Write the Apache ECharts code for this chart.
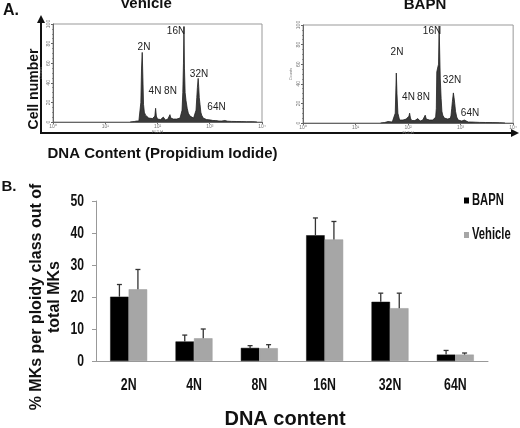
<!DOCTYPE html>
<html><head><meta charset="utf-8">
<script src="https://cdn.jsdelivr.net/npm/echarts@6/dist/echarts.min.js"></script>
<style>html,body{margin:0;padding:0;background:#fff}#c{width:520px;height:428px}</style>
</head><body><div id="c"></div>
<script>
// ---------- Data ----------
const categories = ['2N', '4N', '8N', '16N', '32N', '64N'];
const seriesNames = ['BAPN', 'Vehicle'];
const bapnMean = [20.1, 6.1, 4.1, 39.3, 18.5, 2.0];
const bapnErr = [3.8, 2.0, 0.7, 5.4, 2.7, 1.3];
const vehicleMean = [22.4, 7.1, 4.0, 38.0, 16.5, 2.0];
const vehicleErr = [6.2, 2.9, 1.1, 5.6, 4.7, 0.5];
const yTicks = [0, 10, 20, 30, 40, 50];

// flow cytometry histograms: [FL2-H channel, counts]
const vehicleHist = [[30,0],[36,0.5],[40,1],[44,1],[46,3],[48,20],[49.5,55],[51,71],[52.5,45],[54,18],[56,10],[59,7],[63,5],[68,4],[74,3],[80,3.5],[85,4],[89,6],[92,14],[95,6],[100,3],[108,3],[115,2.5],[122,3],[129,5],[135,3],[142,2],[150,3],[158,3],[165,4],[173,7.5],[180,4],[190,3],[201,3],[215,2.5],[233,3],[250,3.5],[270,4],[285,6],[295,12],[305,30],[314,60],[321,97],[328,55],[338,30],[351,22],[370,14],[389,9],[420,6],[451,5],[490,4],[520,5],[546,12],[565,25],[580,35],[600,44.5],[615,36],[630,25],[651,18],[675,10],[700,7],[750,4],[811,3],[870,2.5],[950,2],[1050,2],[1150,1.5],[1300,1.5],[1500,1],[1700,1],[1950,1.5],[2200,0.8],[2600,0.6],[3200,0.5],[4000,0.4],[5000,0.3],[6700,0.3],[8000,0]];
const bapnHist = [[30,0],[36,0.5],[41.5,1.5],[45,1],[50,1],[54,1.5],[57,10],[59.7,51],[61.5,30],[64,10],[69,3],[75,3],[80,3],[86,3.5],[92,4],[100,4],[104,7],[107,10],[111,5],[117,2.5],[123,2],[135,2.5],[145,3],[153,4.5],[160,3],[170,2],[178,2],[190,3],[200,5],[212,8],[222,4],[238,3],[256,3],[275,3],[295,3],[318,3],[335,6],[345,15],[352,52],[365,56],[380,60],[390,99],[398,99],[410,45],[426,25],[440,12],[457,8],[490,5],[530,4],[570,4],[612,4],[640,5],[658,8],[678,15],[698,22],[728,30.7],[750,26],[773,20],[800,12],[843,6],[900,3],[947,2],[1050,2],[1178,3],[1250,1.5],[1400,1],[1600,1],[1900,0.8],[2300,0.6],[3000,0.5],[4000,0.4],[5500,0.3],[7000,0]];

// ---------- Styles ----------
const BOLD = 'Liberation Sans, Arial, sans-serif';
const sup = {0:'\u2070',1:'\u00b9',2:'\u00b2',3:'\u00b3',4:'\u2074'};
const BAR_COLORS = ['#000000', '#a6a6a6'];

function histX(idx){
  return {type:'log', logBase:10, min:1, max:10000, gridIndex:idx,
    name:'FL2-H', nameLocation:'middle', nameGap:6, nameTextStyle:{fontSize:4,color:'#777'},
    axisLine:{lineStyle:{color:'#666',width:1}}, axisTick:{length:2,lineStyle:{color:'#666'}},
    axisLabel:{fontSize:5,color:'#777',margin:2,formatter:v=>'10'+sup[Math.round(Math.log10(v))]},
    splitLine:{show:false}};
}
function histY(idx){
  return {type:'value', min:0, max:100, interval:20, gridIndex:idx,
    name:'Counts', nameLocation:'middle', nameGap:10, nameRotate:90, nameTextStyle:{fontSize:4,color:'#777'},
    axisLine:{show:true,lineStyle:{color:'#666'}}, axisTick:{show:true,length:2,lineStyle:{color:'#666'}},
    minorTick:{show:true,splitNumber:4,length:1,lineStyle:{color:'#888'}},
    axisLabel:{fontSize:5,color:'#777',margin:2,rotate:90}, splitLine:{show:false}};
}
function histSeries(data, idx){
  return {type:'line', xAxisIndex:idx, yAxisIndex:idx, data:data, symbol:'none', silent:true,
    lineStyle:{color:'#222',width:0.8}, areaStyle:{color:'#3a3a3a',opacity:1}};
}
function txt(x,y,text,size,opt,align){
  return Object.assign({type:'text', x:x, y:y, silent:true, z:100,
    style:{text:text, font:'bold '+size+'px '+BOLD, fill:'#111', textAlign:align||'center', textVerticalAlign:'middle'}}, opt||{});
}
function lbl(x,y,text){
  return {type:'text', x:x, y:y, silent:true, z:100,
    style:{text:text, font:'10px '+BOLD, fill:'#222', textAlign:'center', textVerticalAlign:'middle'}};
}
const errSeries = (means, errs, offset) => ({
  type:'custom', xAxisIndex:2, yAxisIndex:2, z:10, silent:true,
  data: means.map((m,i)=>[i, m, m+errs[i]]),
  renderItem:(params, api)=>{
    const p0 = api.coord([api.value(0), api.value(1)]);
    const p1 = api.coord([api.value(0), api.value(2)]);
    const x = p0[0] + offset;
    return {type:'group', children:[
      {type:'line', shape:{x1:x,y1:p0[1],x2:x,y2:p1[1]}, style:{stroke:'#333',lineWidth:1.3}},
      {type:'line', shape:{x1:x-2.5,y1:p1[1],x2:x+2.5,y2:p1[1]}, style:{stroke:'#333',lineWidth:1.3}}
    ]};
  }
});

const chart = echarts.init(document.getElementById('c'), null, {renderer:'canvas'});
chart.setOption({
  animation:false,
  grid:[
    {left:53, top:24, width:209, height:98, show:true, borderColor:'#999', borderWidth:1},
    {left:303, top:25, width:211, height:98, show:true, borderColor:'#999', borderWidth:1},
    {left:96, top:201, width:392, height:160}
  ],
  xAxis:[histX(0), histX(1),
    {type:'category', gridIndex:2, data:categories,
     axisLine:{lineStyle:{color:'#999',width:1}}, axisTick:{length:5,lineStyle:{color:'#999'}},
     axisLabel:{show:false}}],
  yAxis:[histY(0), histY(1),
    {type:'value', gridIndex:2, min:yTicks[0], max:yTicks[yTicks.length-1], interval:10,
     axisLine:{show:true,lineStyle:{color:'#999'}}, axisTick:{show:true,length:4,lineStyle:{color:'#999'}},
     splitLine:{show:false}, axisLabel:{show:false}}],
  series:[
    histSeries(vehicleHist,0), histSeries(bapnHist,1),
    {name:seriesNames[0], type:'bar', xAxisIndex:2, yAxisIndex:2, data:bapnMean, barWidth:18.5, barGap:'0%',
     itemStyle:{color:BAR_COLORS[0], borderColor:'#111', borderWidth:0.5}},
    {name:seriesNames[1], type:'bar', xAxisIndex:2, yAxisIndex:2, data:vehicleMean, barWidth:18.5, barGap:'0%',
     itemStyle:{color:BAR_COLORS[1], borderColor:'#999', borderWidth:0.5}},
    errSeries(bapnMean, bapnErr, -9.25),
    errSeries(vehicleMean, vehicleErr, 9.25)
  ]
});

// condensed tick labels placed through the chart's own scales
const condensed = [];
categories.forEach((c,i)=>{
  const p = chart.convertToPixel({xAxisIndex:2, yAxisIndex:2}, [i, 0]);
  condensed.push(txt(p[0], 385.5, c, 16, {scaleX:0.77}));
});
yTicks.forEach(v=>{
  const p = chart.convertToPixel({xAxisIndex:2, yAxisIndex:2}, [0, v]);
  condensed.push(txt(84, p[1]+0.5, String(v), 16, {scaleX:0.76}, 'right'));
});
// legend (condensed text)
seriesNames.forEach((n,i)=>{
  const cy = 200.5 + i*34.5;
  condensed.push({type:'rect', shape:{x:464, y:cy-3, width:5, height:6}, style:{fill:BAR_COLORS[i]}, silent:true});
  condensed.push(txt(472, cy, n, 16, {scaleX:0.7}, 'left'));
});

chart.setOption({
  graphic:[
    // big axis arrows of panel A
    {type:'line', shape:{x1:41,y1:134,x2:41,y2:21}, style:{stroke:'#111',lineWidth:2}, silent:true},
    {type:'polygon', shape:{points:[[41,15],[37,23],[45,23]]}, style:{fill:'#111'}, silent:true},
    {type:'line', shape:{x1:40,y1:133,x2:512,y2:133}, style:{stroke:'#111',lineWidth:2}, silent:true},
    {type:'polygon', shape:{points:[[519,133],[511,129],[511,137]]}, style:{fill:'#111'}, silent:true},
    txt(11,11,'A.',16),
    txt(146,4,'Vehicle',15),
    txt(425,5,'BAPN',15),
    txt(34,89,'Cell number',14,{rotation:Math.PI/2}),
    txt(162.5,154,'DNA Content (Propidium Iodide)',15),
    txt(9,187,'B.',15),
    {type:'text', x:46, y:297, rotation:Math.PI/2, silent:true, z:100,
     style:{text:'% MKs per ploidy class out of\ntotal MKs', font:'bold 16px '+BOLD, lineHeight:18, fill:'#111', textAlign:'center', textVerticalAlign:'middle'}},
    txt(285,419.5,'DNA content',20),
    // peak labels, Vehicle
    lbl(144,47,'2N'), lbl(176,31,'16N'), lbl(199,74,'32N'), lbl(155,91,'4N'), lbl(170.5,91,'8N'), lbl(216.5,107,'64N'),
    // peak labels, BAPN
    lbl(397,52,'2N'), lbl(432,31,'16N'), lbl(452,80,'32N'), lbl(408.5,97,'4N'), lbl(423.5,97,'8N'), lbl(470,113,'64N')
  ].concat(condensed)
});
</script></body></html>
